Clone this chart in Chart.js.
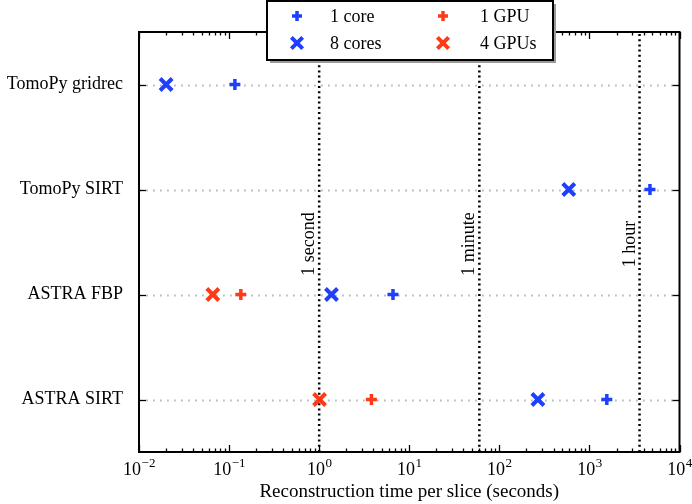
<!DOCTYPE html>
<html>
<head>
<meta charset="utf-8">
<script src="https://cdn.jsdelivr.net/npm/chart.js@4.4.1/dist/chart.umd.min.js"></script>
<style>
  html, body { margin: 0; padding: 0; background: #fff; }
  #wrap { width: 692px; height: 504px; }
</style>
</head>
<body>
<div id="wrap"><canvas id="chart" width="692" height="504"></canvas></div>
<script>
// categories top to bottom
const categories = ['TomoPy gridrec', 'TomoPy SIRT', 'ASTRA FBP', 'ASTRA SIRT'];
// seconds per slice, null = not measured
const oneCore = [0.116, 4700, 6.6, 1560];
const eightCores = [0.020, 590, 1.37, 268];
const oneGpu = [null, null, 0.135, 3.8];
const fourGpus = [null, null, 0.066, 1.01];
// reference times
const refTimes = [1, 60, 3600];
const refLabels = ['1 second', '1 minute', '1 hour'];
const xExponents = [-2, -1, 0, 1, 2, 3, 4];
const xTitle = 'Reconstruction time per slice (seconds)';

const SERIF = '"Liberation Serif", "Times New Roman", serif';
const BLUE = '#1f3fff';
const RED = '#ff3a17';

const toPoints = (values) =>
  values
    .map((v, i) => (v == null ? null : { x: v, y: categories.length - 1 - i }))
    .filter(Boolean);

const markerSet = (label, values, color, style) => ({
  label,
  data: toPoints(values),
  pointStyle: style,
  pointRadius: style === 'cross' ? 5.5 : 8.5,
  pointBorderWidth: style === 'cross' ? 3.5 : 4,
  borderColor: color,
  backgroundColor: color,
  showLine: false,
  order: 0,
});

const refSets = refTimes.map((t) => ({
  label: '',
  isRef: true,
  data: [{ x: t, y: -0.5 }, { x: t, y: categories.length - 0.5 }],
  showLine: true,
  borderColor: '#000',
  borderWidth: 2.5,
  borderDash: [2, 3.2],
  pointRadius: 0,
  order: 1,
}));

const decor = {
  id: 'decor',
  beforeDatasetsDraw(chart) {
    const { ctx, chartArea: a, scales: { y } } = chart;
    ctx.save();
    ctx.strokeStyle = '#b4bec6';
    ctx.lineWidth = 1.8;
    ctx.setLineDash([1.8, 5.2]);
    categories.forEach((_, i) => {
      const py = Math.round(y.getPixelForValue(i)) + 0.5;
      ctx.beginPath();
      ctx.moveTo(a.left, py);
      ctx.lineTo(a.right, py);
      ctx.stroke();
    });
    ctx.restore();
  },
  afterDatasetsDraw(chart) {
    const { ctx, chartArea: a, scales: { x, y } } = chart;
    ctx.save();
    // rotated labels next to reference lines
    ctx.fillStyle = '#000';
    ctx.font = `18px ${SERIF}`;
    ctx.textAlign = 'center';
    ctx.textBaseline = 'alphabetic';
    refTimes.forEach((t, i) => {
      ctx.save();
      ctx.translate(x.getPixelForValue(t) - 5, y.getPixelForValue(1.48));
      ctx.rotate(-Math.PI / 2);
      ctx.fillText(refLabels[i], 0, 0);
      ctx.restore();
    });

    // frame
    ctx.strokeStyle = '#000';
    ctx.lineWidth = 2;
    ctx.strokeRect(a.left, a.top, a.right - a.left, a.bottom - a.top);

    // inward ticks
    ctx.lineWidth = 1.3;
    const tick = (x1, y1, x2, y2) => {
      ctx.beginPath();
      ctx.moveTo(x1, y1);
      ctx.lineTo(x2, y2);
      ctx.stroke();
    };
    xExponents.forEach((e) => {
      const px = Math.round(x.getPixelForValue(10 ** e)) + 0.5;
      tick(px, a.bottom, px, a.bottom - 7);
      tick(px, a.top, px, a.top + 7);
      if (e === xExponents[xExponents.length - 1]) return;
      for (let k = 2; k <= 9; k++) {
        const mx = Math.round(x.getPixelForValue(k * 10 ** e)) + 0.5;
        tick(mx, a.bottom, mx, a.bottom - 3.5);
        tick(mx, a.top, mx, a.top + 3.5);
      }
    });
    categories.forEach((_, i) => {
      const py = Math.round(y.getPixelForValue(i)) + 0.5;
      tick(a.left, py, a.left + 7, py);
      tick(a.right, py, a.right - 7, py);
    });

    // x tick labels: 10 with superscript exponent
    ctx.textAlign = 'left';
    xExponents.forEach((e) => {
      const px = x.getPixelForValue(10 ** e);
      const exp = e < 0 ? '\u2212' + Math.abs(e) : String(e);
      ctx.font = `18px ${SERIF}`;
      const wBase = ctx.measureText('10').width;
      ctx.font = `13px ${SERIF}`;
      const wExp = ctx.measureText(exp).width;
      const start = px - (wBase + wExp) / 2;
      ctx.font = `18px ${SERIF}`;
      ctx.fillText('10', start, a.bottom + 23);
      ctx.font = `13px ${SERIF}`;
      ctx.fillText(exp, start + wBase + 0.5, a.bottom + 15);
    });
    ctx.restore();
  },
  afterDraw(chart) {
    const { ctx } = chart;
    const sets = chart.data.datasets.filter((d) => !d.isRef);
    const box = { x: 267, y: 1, w: 286, h: 59 };
    ctx.save();
    ctx.fillStyle = '#9a9a9a';
    ctx.fillRect(box.x + 3, box.y + 3, box.w, box.h);
    ctx.fillStyle = '#fff';
    ctx.fillRect(box.x, box.y, box.w, box.h);
    ctx.strokeStyle = '#000';
    ctx.lineWidth = 2;
    ctx.strokeRect(box.x, box.y, box.w, box.h);

    // column-major: col 1 = 1 core / 8 cores, col 2 = 1 GPU / 4 GPUs
    const cols = [[sets[0], sets[1]], [sets[2], sets[3]]];
    const colX = [[297, 330], [443, 480]];
    const rowY = [16, 43];
    ctx.font = `18px ${SERIF}`;
    ctx.textAlign = 'left';
    ctx.textBaseline = 'middle';
    cols.forEach((col, c) => {
      col.forEach((ds, r) => {
        ctx.strokeStyle = ds.borderColor;
        ctx.fillStyle = ds.borderColor;
        ctx.lineWidth = ds.pointBorderWidth;
        Chart.helpers.drawPoint(ctx, {
          pointStyle: ds.pointStyle,
          radius: ds.pointStyle === 'cross' ? 5 : 8,
          borderWidth: ds.pointBorderWidth,
          rotation: 0,
        }, colX[c][0], rowY[r]);
        ctx.fillStyle = '#000';
        ctx.fillText(ds.label, colX[c][1], rowY[r] + 1);
      });
    });
    ctx.restore();
  },
};

new Chart(document.getElementById('chart'), {
  type: 'scatter',
  data: {
    datasets: [
      markerSet('1 core', oneCore, BLUE, 'cross'),
      markerSet('8 cores', eightCores, BLUE, 'crossRot'),
      markerSet('1 GPU', oneGpu, RED, 'cross'),
      markerSet('4 GPUs', fourGpus, RED, 'crossRot'),
      ...refSets,
    ],
  },
  options: {
    responsive: false,
    animation: false,
    layout: { padding: { top: 32, right: 11, left: 0, bottom: 0 } },
    plugins: { legend: { display: false }, tooltip: { enabled: false } },
    scales: {
      x: {
        type: 'logarithmic',
        min: 0.01,
        max: 10000,
        ticks: { display: false },
        grid: { display: false, drawTicks: false },
        border: { display: false },
        title: {
          display: true,
          text: xTitle,
          color: '#000',
          font: { family: SERIF, size: 19 },
          padding: { top: 0, bottom: 1 },
        },
        afterFit: (s) => { s.height = 52; },
      },
      y: {
        type: 'linear',
        min: -0.5,
        max: categories.length - 0.5,
        afterBuildTicks: (s) => {
          s.ticks = categories.map((_, i) => ({ value: i }));
        },
        ticks: {
          callback: (v) => categories[categories.length - 1 - v],
          color: '#000',
          font: { family: SERIF, size: 18 },
          padding: 16,
        },
        grid: { display: false, drawTicks: false },
        border: { display: false },
        afterFit: (s) => { s.width = 139; },
      },
    },
  },
  plugins: [decor],
});
</script>
</body>
</html>
